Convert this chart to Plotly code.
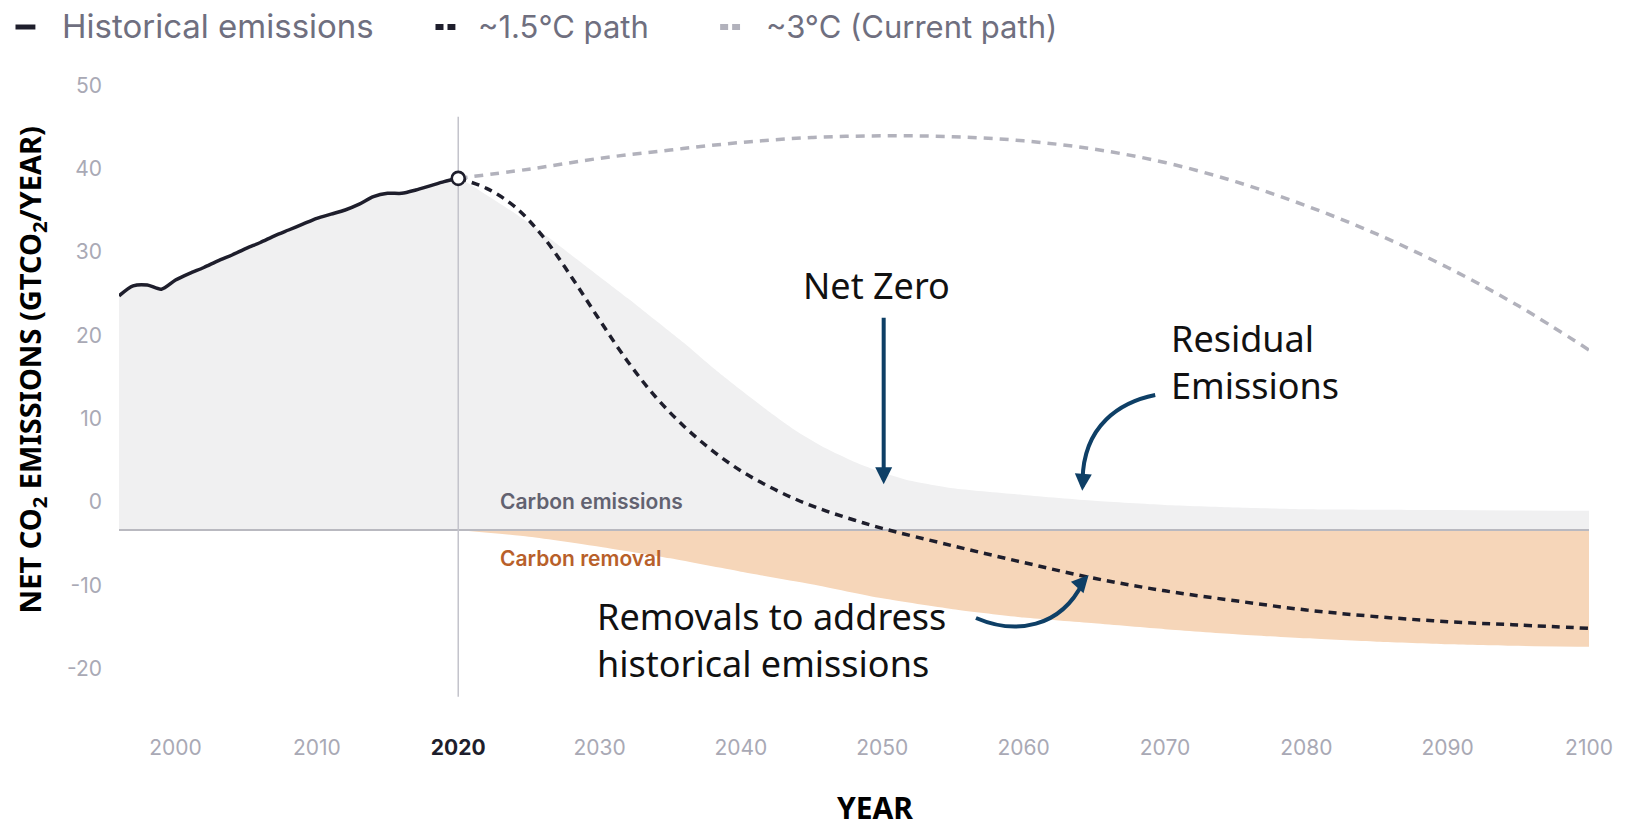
import plotly.graph_objects as go

# ---------------- data ----------------
hist_years = list(range(1996, 2021))
hist_emissions = [28.1, 29.3, 29.4, 28.9, 30.0, 30.8, 31.5, 32.3, 33.0, 33.8,
                  34.5, 35.3, 36.0, 36.7, 37.4, 37.9, 38.4, 39.1, 40.0, 40.4,
                  40.4, 40.8, 41.3, 41.8, 42.2]

path15_years = [2020, 2022, 2024, 2026, 2028, 2030, 2032, 2034, 2036, 2038, 2040,
                2042, 2044, 2046, 2048, 2050, 2055, 2060, 2065, 2070, 2075, 2080,
                2085, 2090, 2095, 2100]
path15_values = [42.2, 41.0, 38.8, 35.2, 30.4, 25.2, 20.2, 15.9, 12.4, 9.5, 7.1,
                 5.2, 3.6, 2.3, 1.2, 0.2, -1.9, -3.9, -5.8, -7.3, -8.5, -9.6,
                 -10.4, -11.0, -11.4, -11.8]

path3_years = [2020, 2025, 2030, 2035, 2040, 2045, 2050, 2055, 2060, 2065, 2070,
               2075, 2080, 2085, 2090, 2095, 2100]
path3_values = [42.2, 43.3, 44.6, 45.6, 46.5, 47.1, 47.3, 47.2, 46.7, 45.7, 44.1,
                41.8, 38.9, 35.5, 31.5, 26.9, 21.6]

gross_years = [2022, 2024, 2026, 2028, 2030, 2032, 2034, 2036, 2038, 2040, 2042,
               2044, 2046, 2048, 2050, 2052, 2055, 2060, 2065, 2070, 2075, 2080,
               2090, 2100]
gross_values = [40.2, 38.0, 35.6, 33.0, 30.4, 27.8, 25.1, 22.4, 19.5, 16.8, 14.2,
                11.8, 9.8, 8.2, 6.9, 5.9, 5.0, 4.2, 3.5, 3.0, 2.7, 2.5, 2.4, 2.3]

removal_years = [2020, 2025, 2030, 2035, 2040, 2045, 2050, 2055, 2060, 2065, 2070,
                 2075, 2080, 2085, 2090, 2095, 2100]
removal_values = [0.0, -0.8, -2.0, -3.4, -5.0, -6.5, -8.2, -9.5, -10.5, -11.2,
                  -11.9, -12.5, -13.0, -13.4, -13.7, -13.9, -14.0]

x_tick_vals = list(range(2000, 2101, 10))
y_tick_vals = [50, 40, 30, 20, 10, 0, -10, -20]
current_year = 2020
x_range = [1996, 2100]
y_range = [-21, 51]

# ---------------- styles ----------------
DARK = "#1e1e2c"
GREY_LINE = "#b2b2bc"
TICK_GREY = "#a9a9b5"
ARROW = "#0e3f66"
FILL_GREY = "#f0f0f1"
FILL_ORANGE = "#f6d6b9"

W, H = 1625, 828
ML, MR, MT, MB = 119, 29, 105, 123
PW, PH = W - ML - MR, H - MT - MB


def px_x(p):
    return (p - ML) / PW


def px_y(p):
    return (H - MB - p) / PH


fig = go.Figure()

# Carbon emissions (grey area)
fig.add_trace(go.Scatter(
    x=hist_years + gross_years, y=hist_emissions + gross_values,
    mode="lines", line=dict(width=0, shape="spline", smoothing=0.6),
    fill="tozeroy", fillcolor=FILL_GREY, hoverinfo="skip", name="Carbon emissions"))

# Carbon removal (orange area)
fig.add_trace(go.Scatter(
    x=removal_years, y=removal_values,
    mode="lines", line=dict(width=0, shape="spline", smoothing=0.6),
    fill="tozeroy", fillcolor=FILL_ORANGE, hoverinfo="skip", name="Carbon removal"))

# baseline (net zero line)
fig.add_trace(go.Scatter(
    x=x_range, y=[0, 0], mode="lines",
    line=dict(color="#b9b9c0", width=2), hoverinfo="skip", name="zero"))

# vertical line at current year
fig.add_trace(go.Scatter(
    x=[current_year, current_year], y=[-20, 49.6], mode="lines",
    line=dict(color="#c3c3cb", width=1.5), hoverinfo="skip", name="today"))

# ~3C path
fig.add_trace(go.Scatter(
    x=path3_years, y=path3_values, mode="lines",
    line=dict(color=GREY_LINE, width=3.5, dash="9px,7px", shape="spline"),
    name="~3°C (Current path)"))

# ~1.5C path
fig.add_trace(go.Scatter(
    x=path15_years, y=path15_values, mode="lines",
    line=dict(color=DARK, width=3.5, dash="8px,6px", shape="spline"),
    name="~1.5°C path"))

# Historical
fig.add_trace(go.Scatter(
    x=hist_years, y=hist_emissions, mode="lines",
    line=dict(color=DARK, width=3.5, shape="spline", smoothing=0.8),
    name="Historical emissions"))

# marker at last historical point
fig.add_trace(go.Scatter(
    x=[hist_years[-1]], y=[hist_emissions[-1]], mode="markers",
    marker=dict(size=13, color="white", line=dict(color=DARK, width=2.6)),
    name="2020"))

x_tick_text = []
for v in x_tick_vals:
    if v == current_year:
        x_tick_text.append(f"<span style='color:{DARK}'><b>{v}</b></span>")
    else:
        x_tick_text.append(str(v))

fig.update_xaxes(
    range=x_range, showgrid=False, zeroline=False, showline=False, ticks="",
    tickvals=x_tick_vals, ticktext=x_tick_text,
    tickfont=dict(family="Inter", size=21, color=TICK_GREY),
    ticklabelstandoff=28)

fig.update_yaxes(
    range=y_range, showgrid=False, zeroline=False, showline=False, ticks="",
    tickvals=y_tick_vals, ticktext=[str(v) for v in y_tick_vals],
    tickfont=dict(family="Inter", size=21, color=TICK_GREY),
    ticklabelstandoff=16, ticklabelshift=-28)

annotations = []

# axis titles
annotations.append(dict(
    text="<b>YEAR</b>", xref="paper", yref="paper", x=px_x(879), y=px_y(807),
    showarrow=False, font=dict(family="Noto Sans", size=30, color="#000000"),
    xanchor="center", yanchor="middle"))
annotations.append(dict(
    text="<b>NET CO<sub>2</sub> EMISSIONS (GTCO<sub>2</sub>/YEAR)</b>",
    xref="paper", yref="paper", x=px_x(31), y=px_y(370), textangle=-90,
    showarrow=False, font=dict(family="Noto Sans", size=29, color="#000000"),
    xanchor="center", yanchor="middle"))

# legend (text + symbols)
LEG_Y = 26
for label, x_left, size in [("Historical emissions", 60, 33), ("~1.5°C path", 478, 31),
                            ("~3°C (Current path)", 767, 31)]:
    annotations.append(dict(
        text=label, xref="paper", yref="paper", x=px_x(x_left), y=px_y(LEG_Y),
        showarrow=False, font=dict(family="Inter", size=size, color="#6f6f7f"),
        xanchor="left", yanchor="middle"))

shapes = [
    dict(type="line", xref="paper", yref="paper", x0=px_x(15), x1=px_x(35),
         y0=px_y(LEG_Y + 1), y1=px_y(LEG_Y + 1), line=dict(color=DARK, width=5)),
    dict(type="line", xref="paper", yref="paper", x0=px_x(437), x1=px_x(457),
         y0=px_y(LEG_Y + 1), y1=px_y(LEG_Y + 1),
         line=dict(color=DARK, width=6, dash="8px,4px")),
    dict(type="line", xref="paper", yref="paper", x0=px_x(723), x1=px_x(743),
         y0=px_y(LEG_Y + 1), y1=px_y(LEG_Y + 1),
         line=dict(color=GREY_LINE, width=6, dash="8px,4px")),
]

# in-chart labels
annotations.append(dict(
    text="Carbon emissions", x=2022.8, y=3.4, xanchor="left", yanchor="middle",
    showarrow=False, font=dict(family="Inter", size=21, color="#626270", weight=600)))
annotations.append(dict(
    text="Carbon removal", x=2022.8, y=-3.4, xanchor="left", yanchor="middle",
    showarrow=False, font=dict(family="Inter", size=21, color="#b8602a", weight=600)))

NOTE_FONT = dict(family="Noto Sans", size=36, color="#111111")
annotations.append(dict(text="Net Zero", x=2049.6, y=29.4, xanchor="center",
                        yanchor="middle", showarrow=False, font=NOTE_FONT))
annotations.append(dict(text="Residual<br>Emissions", x=2070.3, y=20.2,
                        xanchor="left", yanchor="middle", align="left",
                        showarrow=False, font=NOTE_FONT))
annotations.append(dict(text="Removals to address<br>historical emissions",
                        x=2029.7, y=-13.2, xanchor="left", yanchor="middle",
                        align="left", showarrow=False, font=NOTE_FONT))

# arrows
ARROW_STYLE = dict(showarrow=True, arrowhead=2, arrowsize=0.85, arrowwidth=4,
                   arrowcolor=ARROW, text="", axref="pixel", ayref="pixel")
annotations.append(dict(x=2050.1, y=5.5, ax=0, ay=-168, **ARROW_STYLE))
annotations.append(dict(x=2064.15, y=4.7, ax=1, ay=-16, **ARROW_STYLE))
annotations.append(dict(x=2064.6, y=-5.4, ax=-10, ay=11, **ARROW_STYLE))

shapes.append(dict(
    type="path", xref="x", yref="y",
    path="M 2069.31,16.2 C 2066.85,15.36 2064.24,12.6 2064.17,6.0",
    line=dict(color=ARROW, width=4)))
shapes.append(dict(
    type="path", xref="x", yref="y",
    path="M 2056.63,-10.56 C 2059.44,-12.6 2062.6,-11.76 2064.2,-6.3",
    line=dict(color=ARROW, width=4)))

fig.update_layout(
    width=W, height=H, margin=dict(l=ML, r=MR, t=MT, b=MB),
    plot_bgcolor="white", paper_bgcolor="white", showlegend=False,
    font=dict(family="Inter"), annotations=annotations, shapes=shapes)

fig.write_html("out.html",
               config={"displayModeBar": False},
               post_script="document.body.style.margin='0px';"
                           "document.body.style.overflow='hidden';")
